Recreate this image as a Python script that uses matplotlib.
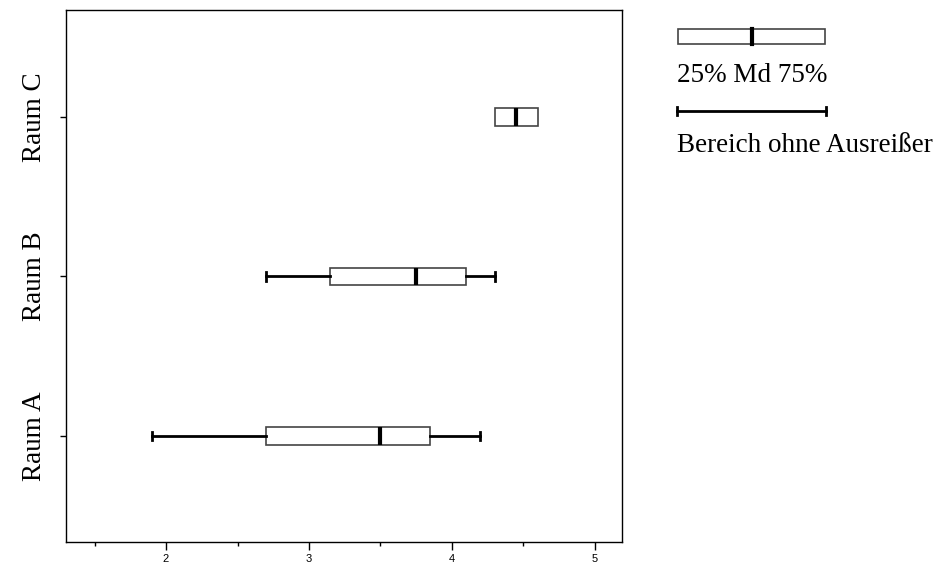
import matplotlib
matplotlib.use('Agg')
import matplotlib.pyplot as plt
from matplotlib.patches import Rectangle
from matplotlib.lines import Line2D

rooms = ['Raum A', 'Raum B', 'Raum C']
whisker_lo = [1.9, 2.7, 4.3]
q1 = [2.7, 3.15, 4.3]
median = [3.5, 3.75, 4.45]
q3 = [3.85, 4.1, 4.6]
whisker_hi = [4.2, 4.3, 4.6]

x_ticks = [2, 3, 4, 5]
x_minor = [1.5, 2.5, 3.5, 4.5]

serif = ['Liberation Serif', 'DejaVu Serif']
narrow = ['Liberation Sans Narrow', 'Liberation Sans', 'DejaVu Sans']

fig = plt.figure(figsize=(9.33, 5.67), dpi=100)
ax = fig.add_axes([66 / 933, 25 / 567, 556 / 933, 532 / 567])

stats = []
for i, name in enumerate(rooms):
    stats.append(dict(label=name, whislo=whisker_lo[i], q1=q1[i], med=median[i],
                      q3=q3[i], whishi=whisker_hi[i], fliers=[]))

pos = list(range(1, len(rooms) + 1))
parts = ax.bxp(stats, positions=pos, widths=0.11, capwidths=0.055, orientation='horizontal',
               showfliers=False, patch_artist=True,
               boxprops=dict(facecolor='white', edgecolor='#444444', linewidth=1.2),
               medianprops=dict(color='black', linewidth=3, solid_capstyle='butt'),
               whiskerprops=dict(color='black', linewidth=2),
               capprops=dict(color='black', linewidth=2))

# no whiskers where the range equals the box
for i in range(len(rooms)):
    if whisker_lo[i] == q1[i]:
        parts['caps'][2 * i].set_visible(False)
    if whisker_hi[i] == q3[i]:
        parts['caps'][2 * i + 1].set_visible(False)

ax.set_xlim(1.3, 5.19)
ax.set_ylim(0.335, 3.67)
ax.set_xticks(x_ticks)
ax.set_xticklabels([str(t) for t in x_ticks], family=narrow, fontsize=8)
ax.set_xticks(x_minor, minor=True)
ax.set_yticks(pos)
ax.set_yticklabels(rooms, family=serif, fontsize=19.5, rotation=90, va='center')
ax.tick_params(axis='x', which='major', length=6, width=1, pad=3)
ax.tick_params(axis='x', which='minor', length=3, width=1)
ax.tick_params(axis='y', length=4, width=1, pad=10)
for s in ax.spines.values():
    s.set_linewidth(1)

# legend drawn in figure pixels
def px(x, y):
    return x / 933, 1 - y / 567

bx, by = px(678, 44)
fig.add_artist(Rectangle((bx, by), 147 / 933, 15 / 567, transform=fig.transFigure,
                         facecolor='white', edgecolor='#444444', linewidth=1.2))
mx0, my0 = px(752, 44)
mx1, my1 = px(752, 29)
fig.add_artist(Line2D([mx0, mx1], [my0, my1], transform=fig.transFigure,
                      color='black', linewidth=3))
fig.text(*px(677, 75), '25% Md 75%', family=serif, fontsize=19.5, va='center', ha='left')

lx0, ly = px(677, 111)
lx1, _ = px(826, 111)
fig.add_artist(Line2D([lx0, lx1], [ly, ly], transform=fig.transFigure, color='black', linewidth=2))
for xx in (lx0, lx1):
    fig.add_artist(Line2D([xx, xx], [ly - 4 / 567, ly + 4 / 567], transform=fig.transFigure,
                          color='black', linewidth=2))
fig.text(*px(677, 146), 'Bereich ohne Ausreißer', family=serif, fontsize=19.5, va='center', ha='left')

fig.savefig('out.png', dpi=100)
